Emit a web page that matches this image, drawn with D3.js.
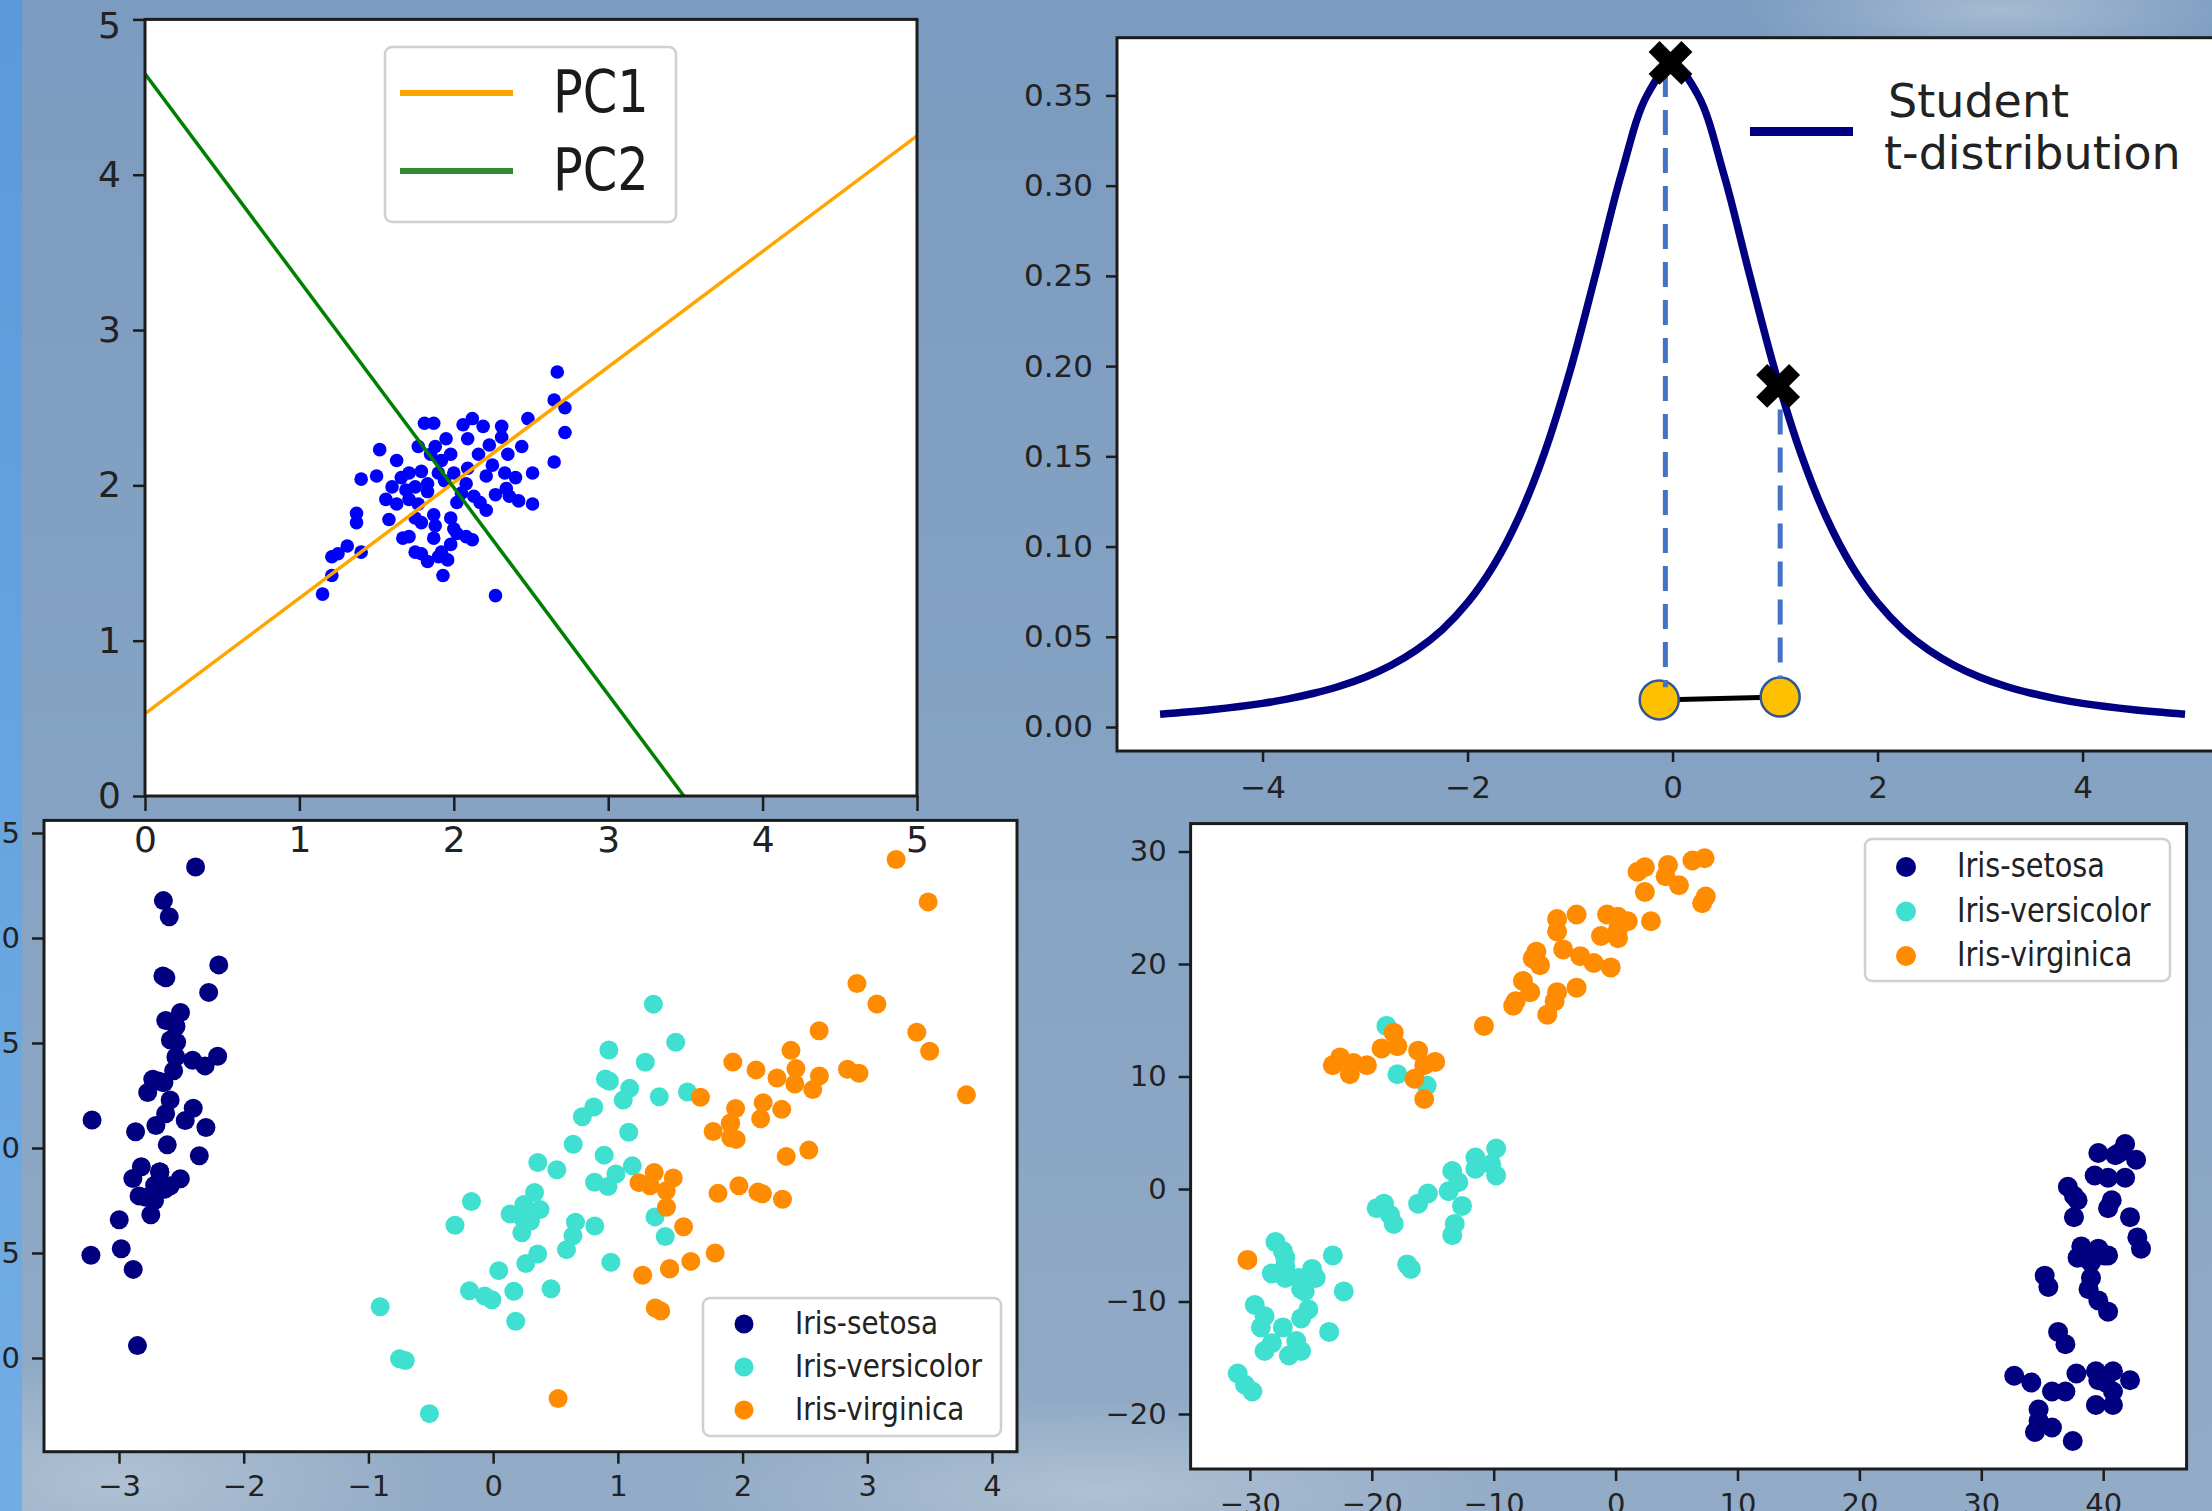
<!DOCTYPE html>
<html>
<head>
<meta charset="utf-8">
<script src="https://cdn.jsdelivr.net/npm/d3@7"></script>
<style>
  body { margin: 0; overflow: hidden; }
  text { font-family: "DejaVu Sans", sans-serif; }
</style>
</head>
<body>
<div id="chart"></div>
<script>
// ---- data ----

// top left: 2D cloud with its two principal axes
const cloudPoints = [
  [2.67,2.73],[2.65,2.55],[2.72,2.50],[2.72,2.34],[2.48,2.43],[2.65,2.15],[2.51,2.08],[2.51,1.88],[2.44,2.25],[2.42,1.90],
  [2.31,2.38],[2.31,2.31],[2.23,2.26],[2.35,2.20],[2.25,2.13],[2.33,2.08],[2.21,2.06],[2.34,1.98],[2.36,1.93],[2.21,1.84],
  [2.27,1.29],[2.06,2.39],[2.12,2.43],[2.19,2.38],[2.09,2.30],[1.98,2.20],[2.00,2.08],[2.08,2.01],[2.13,1.93],[2.02,1.89],
  [1.98,1.79],[2.00,1.72],[2.08,1.67],[2.02,1.69],[1.81,2.40],[1.87,2.40],[1.77,2.25],[1.88,2.25],[1.63,2.16],[1.52,2.23],
  [1.71,2.08],[1.79,2.09],[1.90,2.08],[1.75,1.99],[1.83,1.96],[1.60,1.99],[1.56,1.91],[1.63,1.88],[1.40,2.04],[1.50,2.06],
  [1.77,1.88],[1.75,1.79],[1.87,1.81],[1.79,1.76],[1.88,1.74],[1.67,1.66],[1.71,1.67],[1.79,1.56],[1.75,1.57],[1.83,1.51],
  [1.92,1.57],[1.90,1.54],[1.93,1.42],[1.37,1.82],[1.37,1.76],[1.31,1.61],[1.25,1.56],[1.21,1.54],[1.40,1.57],[1.21,1.42],
  [1.15,1.30],[2.12,1.65],[1.98,1.62],[1.85,2.20],[1.92,2.16],[1.71,1.91],[2.09,2.11],[2.17,1.89],[2.27,1.94],[1.87,1.66],
  [1.96,1.52],[1.94,2.03],[1.83,2.01],[1.66,2.05],[1.95,2.30],[2.16,2.20],[1.69,1.97],[2.05,1.95],[1.58,1.78],[2.40,2.05]
];
const pc1Line = [[0, 0.53], [5, 4.25]];
const pc2Line = [[0, 4.65], [3.49, 0]];
const cloudTicks = [0, 1, 2, 3, 4, 5];

// top right: Student t density
const tX = [-5,-4.5,-4,-3.75,-3.5,-3.25,-3,-2.75,-2.5,-2.25,-2,-1.75,-1.5,-1.25,-1,-0.75,-0.5,-0.25,0,
            0.25,0.5,0.75,1,1.25,1.5,1.75,2,2.25,2.5,2.75,3,3.25,3.5,3.75,4,4.5,5];
const tY = [0.0071,0.0096,0.0131,0.0156,0.0187,0.0226,0.0276,0.0341,0.0426,0.0538,0.0689,0.0891,0.1162,0.1519,0.1973,0.2510,0.3063,0.350,0.367,
            0.350,0.3063,0.2510,0.1973,0.1519,0.1162,0.0891,0.0689,0.0538,0.0426,0.0341,0.0276,0.0226,0.0187,0.0156,0.0131,0.0096,0.0071];
const tMarkers = [[-0.02, 0.368], [1.03, 0.189]];
const tDrops = [[-0.07, 0.363, 0.022], [1.05, 0.176, 0.027]];
const tNodes = [[-0.13, 0.015], [1.05, 0.0166]];
const tXTicks = [-4, -2, 0, 2, 4];
const tYTicks = [0, 0.05, 0.10, 0.15, 0.20, 0.25, 0.30, 0.35];

// bottom: iris classes
const irisNames = ["Iris-setosa", "Iris-versicolor", "Iris-virginica"];
const irisColors = ["#000080", "#40e0d0", "#ff8c00"];

const pcaSetosa = [
  [-2.684,0.319],[-2.714,-0.177],[-2.889,-0.145],[-2.745,-0.318],[-2.729,0.327],[-2.281,0.741],[-2.821,-0.089],[-2.626,0.163],
  [-2.886,-0.578],[-2.673,-0.114],[-2.507,0.645],[-2.613,0.015],[-2.787,-0.235],[-3.225,-0.511],[-2.644,1.178],[-2.386,1.338],
  [-2.624,0.811],[-2.648,0.312],[-2.200,0.872],[-2.588,0.514],[-2.310,0.391],[-2.544,0.433],[-3.216,0.133],[-2.303,0.098],
  [-2.356,-0.037],[-2.508,-0.146],[-2.469,0.131],[-2.562,0.368],[-2.640,0.312],[-2.633,-0.197],[-2.588,-0.180],[-2.410,0.418],
  [-2.648,0.819],[-2.597,1.101],[-2.673,-0.114],[-2.867,0.077],[-2.625,0.607],[-2.673,-0.114],[-2.982,-0.480],[-2.590,0.229],
  [-2.770,0.264],[-2.852,-0.941],[-2.998,-0.342],[-2.405,0.189],[-2.209,0.437],[-2.715,-0.250],[-2.538,0.504],[-2.839,-0.228],
  [-2.543,0.579],[-2.704,0.107]
];
const pcaVersicolor = [
  [1.285,0.685],[0.932,0.318],[1.464,0.504],[0.181,-0.825],[1.087,0.075],[0.640,-0.418],[1.095,0.284],[-0.751,-1.004],
  [1.043,0.228],[-0.010,-0.723],[-0.511,-1.265],[0.511,-0.104],[0.262,-0.550],[0.984,-0.124],[-0.174,-0.255],[0.928,0.467],
  [0.660,-0.353],[0.236,-0.333],[0.944,-0.544],[0.045,-0.584],[1.116,-0.085],[0.358,-0.069],[1.298,-0.328],[0.921,-0.183],
  [0.715,0.149],[0.900,0.329],[1.332,0.244],[1.558,0.267],[0.813,-0.163],[-0.306,-0.368],[-0.068,-0.705],[-0.190,-0.680],
  [0.136,-0.314],[1.380,-0.421],[0.588,-0.484],[0.807,0.195],[1.220,0.408],[0.815,-0.371],[0.246,-0.269],[0.166,-0.682],
  [0.464,-0.670],[0.890,-0.034],[0.230,-0.404],[-0.705,-1.012],[0.357,-0.505],[0.332,-0.212],[0.376,-0.293],[0.642,0.018],
  [-0.906,-0.756],[0.299,-0.349]
];
const pcaVirginica = [
  [2.531,-0.010],[1.415,-0.575],[2.616,0.343],[1.971,-0.180],[2.350,-0.040],[3.397,0.551],[0.521,-1.193],[2.933,0.356],
  [2.320,-0.244],[2.917,0.783],[1.662,0.242],[1.803,-0.216],[2.165,0.216],[1.344,-0.776],[1.585,-0.540],[1.905,0.119],
  [1.949,0.041],[3.488,1.172],[3.795,0.253],[1.300,-0.762],[2.428,0.378],[1.199,-0.606],[3.500,0.461],[1.388,-0.204],
  [2.276,0.333],[2.614,0.558],[1.258,-0.180],[1.291,-0.117],[2.123,-0.210],[2.388,0.465],[2.841,0.375],[3.231,1.374],
  [2.159,-0.218],[1.444,-0.143],[1.780,-0.500],[3.077,0.686],[2.145,0.139],[1.905,0.049],[1.169,-0.165],[2.108,0.372],
  [2.314,0.184],[1.922,0.409],[1.415,-0.575],[2.563,0.278],[2.419,0.305],[1.944,0.188],[1.527,-0.375],[1.764,0.079],
  [1.901,0.117],[1.390,-0.282]
];
const pcaXTicks = [-3, -2, -1, 0, 1, 2, 3, 4];
const pcaYTicks = [-1.0, -0.5, 0.0, 0.5, 1.0, 1.5];

const tsneSetosa = [
  [41.8,4.0],[39.6,3.2],[41.0,3.0],[42.7,2.6],[39.3,1.2],[40.4,1.0],[41.8,1.0],[37.1,0.2],[37.9,-1.0],[40.7,-1.0],
  [40.4,-1.7],[37.6,-2.5],[42.2,-2.5],[42.8,-4.3],[43.1,-5.3],[38.2,-5.1],[39.6,-5.3],[40.4,-5.9],[37.9,-6.1],[39.0,-6.5],
  [35.2,-7.7],[35.5,-8.7],[39.0,-7.9],[38.8,-8.9],[39.6,-9.9],[40.4,-10.9],[36.3,-12.7],[36.9,-13.8],[32.7,-16.6],[34.1,-17.2],
  [35.8,-18.0],[36.9,-18.0],[37.8,-16.4],[39.4,-16.2],[40.8,-16.2],[42.2,-17.0],[40.2,-17.2],[39.4,-19.2],[40.8,-19.2],[34.7,-19.6],
  [34.7,-20.6],[34.4,-21.6],[35.8,-21.2],[37.5,-22.4],[40.8,-18.0],[38.8,-6.3],[39.6,-17.0],[40.1,-5.9],[41.3,3.2],[37.6,-0.6]
];
const tsneVersicolor = [
  [-18.8,14.5],[-17.9,10.2],[-15.5,9.2],
  [-9.8,3.6],[-11.5,2.8],[-10.2,2.2],[-9.8,1.2],[-11.5,1.8],[-13.4,1.6],[-12.9,0.6],[-13.7,-0.2],[-12.6,-1.5],[-13.2,-3.1],
  [-13.4,-4.1],[-15.4,-0.4],[-16.2,-1.3],[-19.0,-1.3],[-19.6,-1.7],[-18.5,-2.3],[-18.2,-3.1],[-17.1,-6.7],[-16.8,-7.1],
  [-27.9,-4.7],[-27.3,-5.5],[-27.1,-6.1],[-23.2,-5.9],[-28.2,-7.5],[-27.1,-7.9],[-26.0,-7.9],[-24.9,-7.1],[-24.6,-7.9],
  [-25.8,-8.9],[-22.3,-9.1],[-29.6,-10.3],[-28.8,-11.3],[-29.1,-12.3],[-27.3,-12.3],[-25.8,-11.5],[-25.2,-10.7],[-23.5,-12.7],
  [-28.2,-13.7],[-26.8,-14.8],[-25.8,-14.4],[-31.0,-16.4],[-30.4,-17.4],[-29.8,-18.0],[-26.2,-13.5],[-28.8,-14.4],[-27.1,-6.9],
  [-25.5,-9.1]
];
const tsneVirginica = [
  [7.3,29.4],[6.3,29.2],[4.3,28.8],[2.4,28.6],[5.2,27.0],[2.4,26.4],[7.4,26.0],[7.1,25.4],[4.1,27.8],[2.9,23.8],
  [1.0,23.8],[0.2,23.1],[-0.7,24.4],[0.2,22.3],[-3.2,24.4],[-4.8,24.0],[-4.8,22.9],[-1.2,22.5],[-6.5,21.1],[-6.8,20.5],
  [-4.3,21.3],[-2.9,20.7],[-1.8,20.1],[-0.4,19.7],[-7.6,18.5],[-7.0,17.5],[-8.2,16.7],[-8.4,16.3],[-4.8,17.5],[-3.2,17.9],
  [-5.0,16.7],[-5.6,15.5],[-10.8,14.5],[1.8,28.2],[0.2,24.2],[-6.2,19.9],
  [-22.6,11.7],[-21.5,11.2],[-21.8,10.2],[-20.4,11.0],[-23.2,11.0],[-19.2,12.5],[-18.2,13.9],[-17.9,12.7],[-16.2,12.3],
  [-14.8,11.3],[-15.7,11.0],[-16.5,9.8],[-15.7,8.0],[-30.2,-6.3]
];
const tsneXTicks = [-30, -20, -10, 0, 10, 20, 30, 40];
const tsneYTicks = [-20, -10, 0, 10, 20, 30];

// ---- drawing ----
const W = 2212, H = 1511;
const FONT = "DejaVu Sans";
const INK = "#1c1c1c";

const svg = d3.select("#chart").append("svg")
  .attr("width", W).attr("height", H);
const defs = svg.append("defs");

// background: a bluish photo-like backdrop
const bg = defs.append("linearGradient").attr("id", "bg").attr("x1", 0).attr("y1", 0).attr("x2", 0).attr("y2", 1);
bg.append("stop").attr("offset", "0%").attr("stop-color", "#7b9bc0");
bg.append("stop").attr("offset", "55%").attr("stop-color", "#86a3c3");
bg.append("stop").attr("offset", "100%").attr("stop-color", "#92abc6");
const strip = defs.append("linearGradient").attr("id", "strip").attr("x1", 0).attr("y1", 0).attr("x2", 0).attr("y2", 1);
strip.append("stop").attr("offset", "0%").attr("stop-color", "#5b99dc");
strip.append("stop").attr("offset", "100%").attr("stop-color", "#72ade4");
const haze = defs.append("radialGradient").attr("id", "haze");
haze.append("stop").attr("offset", "0%").attr("stop-color", "#c3d0dc").attr("stop-opacity", 0.6);
haze.append("stop").attr("offset", "100%").attr("stop-color", "#c3d0dc").attr("stop-opacity", 0);

svg.append("rect").attr("width", W).attr("height", H).attr("fill", "url(#bg)");
svg.append("ellipse").attr("cx", 120).attr("cy", 1480).attr("rx", 320).attr("ry", 120).attr("fill", "url(#haze)");
svg.append("ellipse").attr("cx", 1100).attr("cy", 1490).attr("rx", 420).attr("ry", 90).attr("fill", "url(#haze)");
svg.append("ellipse").attr("cx", 2000).attr("cy", 10).attr("rx", 260).attr("ry", 60).attr("fill", "url(#haze)");
svg.append("rect").attr("width", 22).attr("height", H).attr("fill", "url(#strip)");

let clipId = 0;
function panel(x0, y0, x1, y1) {
  const g = svg.append("g");
  g.append("rect").attr("x", x0).attr("y", y0).attr("width", x1 - x0).attr("height", y1 - y0).attr("fill", "#fff");
  const id = "clip" + (clipId++);
  defs.append("clipPath").attr("id", id).append("rect")
    .attr("x", x0).attr("y", y0).attr("width", x1 - x0).attr("height", y1 - y0);
  const plot = g.append("g").attr("clip-path", `url(#${id})`);
  return { g, plot, frame: () => g.append("rect").attr("x", x0).attr("y", y0)
    .attr("width", x1 - x0).attr("height", y1 - y0)
    .attr("fill", "none").attr("stroke", INK).attr("stroke-width", 3) };
}

function styleAxis(a, size) {
  a.attr("font-family", FONT).attr("font-size", size);
  a.select(".domain").remove();
  a.selectAll(".tick line").attr("stroke", INK).attr("stroke-width", 2.5);
  a.selectAll(".tick text").attr("fill", "#222");
  return a;
}

function legendBox(g, x, y, w, h) {
  g.append("rect").attr("x", x).attr("y", y).attr("width", w).attr("height", h)
    .attr("rx", 7).attr("fill", "#fff").attr("fill-opacity", 0.85)
    .attr("stroke", "#d0d0d0").attr("stroke-width", 2.5);
}

// ---------- top left: cloud + principal components ----------
const cx = d3.scaleLinear().domain([0, 5]).range([145, 917]);
const cy = d3.scaleLinear().domain([0, 5]).range([796, 19.4]);
const p1 = panel(145, 19.4, 917, 796);
const line = d3.line().x(d => cx(d[0])).y(d => cy(d[1]));

p1.plot.selectAll("circle").data(cloudPoints).enter().append("circle")
  .attr("cx", d => cx(d[0])).attr("cy", d => cy(d[1])).attr("r", 6.8).attr("fill", "#0000ff");
p1.plot.append("path").attr("d", line(pc1Line)).attr("stroke", "#ffa500").attr("stroke-width", 3.5).attr("fill", "none");
p1.plot.append("path").attr("d", line(pc2Line)).attr("stroke", "#008000").attr("stroke-width", 3.5).attr("fill", "none");

legendBox(p1.g, 385, 47, 291, 175);
[["PC1", "#ffa500", 93], ["PC2", "#2e8b2e", 171]].forEach(([name, col, y]) => {
  p1.g.append("line").attr("x1", 400).attr("x2", 513).attr("y1", y).attr("y2", y)
    .attr("stroke", col).attr("stroke-width", 6);
  p1.g.append("text").attr("transform", `translate(553,${y + 19}) scale(0.95,1.12)`)
    .attr("font-size", 52).attr("fill", "#1a1a1a").text(name);
});
p1.frame();
const p1y = styleAxis(p1.g.append("g").attr("transform", "translate(145,0)")
  .call(d3.axisLeft(cy).tickValues(cloudTicks).tickFormat(d3.format("d")).tickSize(12).tickPadding(12)), 36);
// the top label sits a little lower so that it stays inside the picture
p1y.selectAll(".tick text").filter(d => d === 5).attr("dy", "0.5em");

// ---------- top right: Student t-distribution ----------
const tx = d3.scaleLinear().domain([-5.42, 5.58]).range([1117, 2244.5]);
const ty = d3.scaleLinear().domain([-0.0133, 0.382]).range([751, 37.7]);
const p2 = panel(1117, 37.7, 2244.5, 751);
const tCurve = d3.line().x((d, i) => tx(tX[i])).y(d => ty(d)).curve(d3.curveCatmullRom.alpha(0.5));

p2.plot.append("path").attr("d", tCurve(tY)).attr("fill", "none")
  .attr("stroke", "#000080").attr("stroke-width", 7.5);
p2.plot.append("line")
  .attr("x1", tx(tNodes[0][0])).attr("y1", ty(tNodes[0][1]))
  .attr("x2", tx(tNodes[1][0])).attr("y2", ty(tNodes[1][1]))
  .attr("stroke", "#000").attr("stroke-width", 5);
p2.plot.selectAll("circle.node").data(tNodes).enter().append("circle")
  .attr("cx", d => tx(d[0])).attr("cy", d => ty(d[1])).attr("r", 19.5)
  .attr("fill", "#ffc000").attr("stroke", "#2f5597").attr("stroke-width", 2.5);
p2.plot.selectAll("line.drop").data(tDrops).enter().append("line")
  .attr("x1", d => tx(d[0])).attr("x2", d => tx(d[0]))
  .attr("y1", d => ty(d[1])).attr("y2", d => ty(d[2]))
  .attr("stroke", "#4472c4").attr("stroke-width", 5).attr("stroke-dasharray", "25 13");
p2.plot.selectAll("path.mark").data(tMarkers).enter().append("path")
  .attr("d", d3.symbol(d3.symbolCross, 1200)())
  .attr("transform", d => `translate(${tx(d[0])},${ty(d[1])}) rotate(45)`)
  .attr("fill", "#000");

p2.g.append("line").attr("x1", 1750).attr("x2", 1853).attr("y1", 131.5).attr("y2", 131.5)
  .attr("stroke", "#000080").attr("stroke-width", 9);
p2.g.append("text").attr("x", 1888).attr("y", 117).attr("font-size", 46).attr("fill", "#222").text("Student");
p2.g.append("text").attr("x", 1884).attr("y", 169).attr("font-size", 46).attr("fill", "#222").text("t-distribution");
p2.frame();
styleAxis(p2.g.append("g").attr("transform", "translate(1117,0)")
  .call(d3.axisLeft(ty).tickValues(tYTicks).tickFormat(d3.format(".2f")).tickSize(11).tickPadding(13)), 31);
styleAxis(p2.g.append("g").attr("transform", "translate(0,751)")
  .call(d3.axisBottom(tx).tickValues(tXTicks).tickFormat(d3.format("d")).tickSize(11).tickPadding(14)), 31);

// ---------- scatter panels for iris ----------
function irisPanel(series, xs, ys, box, r, xTicks, yTicks, yFmt, leg) {
  const p = panel(...box);
  series.forEach((pts, k) => {
    p.plot.selectAll(null).data(pts).enter().append("circle")
      .attr("cx", d => xs(d[0])).attr("cy", d => ys(d[1])).attr("r", r)
      .attr("fill", irisColors[k]);
  });
  legendBox(p.g, leg.x, leg.y, leg.w, leg.h);
  irisNames.forEach((name, k) => {
    const yy = leg.y + leg.first + k * leg.step;
    p.g.append("circle").attr("cx", leg.x + 41).attr("cy", yy).attr("r", r).attr("fill", irisColors[k]);
    p.g.append("text").attr("transform", `translate(${leg.x + 92},${yy + 10}) scale(0.96,1.1)`)
      .attr("font-size", leg.size).attr("fill", "#222").text(name);
  });
  p.frame();
  styleAxis(p.g.append("g").attr("transform", `translate(${box[0]},0)`)
    .call(d3.axisLeft(ys).tickValues(yTicks).tickFormat(yFmt).tickSize(12).tickPadding(12)), 29);
  styleAxis(p.g.append("g").attr("transform", `translate(0,${box[3]})`)
    .call(d3.axisBottom(xs).tickValues(xTicks).tickFormat(d3.format("d")).tickSize(12).tickPadding(12)), 29);
  return p;
}

// bottom right: t-SNE
irisPanel([tsneSetosa, tsneVersicolor, tsneVirginica],
  d3.scaleLinear().domain([0, 40]).range([1615.6, 2103.2]),
  d3.scaleLinear().domain([0, 30]).range([1189, 851.5]),
  [1190.6, 823.6, 2186.6, 1469], 10, tsneXTicks, tsneYTicks, d3.format("d"),
  { x: 1865, y: 839, w: 305, h: 142, first: 28, step: 44.5, size: 30 });

// bottom left: PCA
irisPanel([pcaSetosa, pcaVersicolor, pcaVirginica],
  d3.scaleLinear().domain([-3, 4]).range([119, 992]),
  d3.scaleLinear().domain([-1, 1.5]).range([1358, 833]),
  [44, 820.4, 1017, 1451.7], 9.5, pcaXTicks, pcaYTicks, d3.format(".1f"),
  { x: 703, y: 1298, w: 298, h: 138, first: 26, step: 43, size: 29 });

// top-left x tick labels sit on top of the lower-left panel
styleAxis(svg.append("g").attr("transform", "translate(0,796)")
  .call(d3.axisBottom(cx).tickValues(cloudTicks).tickFormat(d3.format("d")).tickSize(15).tickPadding(15)), 36);
</script>
</body>
</html>
